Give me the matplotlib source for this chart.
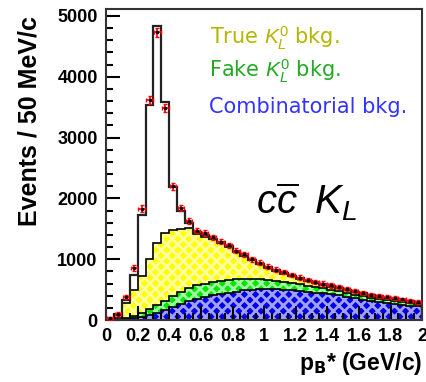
import numpy as np
import matplotlib.pyplot as plt

plt.rcParams['mathtext.fontset'] = 'custom'
plt.rcParams['mathtext.it'] = 'Liberation Sans:italic'
plt.rcParams['mathtext.rm'] = 'Liberation Sans'
plt.rcParams['hatch.linewidth'] = 2.0

# p_B* bins, 50 MeV/c wide from 0 to 2 GeV/c
edges = np.linspace(0, 2, 41)
centers = 0.5 * (edges[:-1] + edges[1:])

# stacked histogram tops
comb_top = [0, 5, 15, 30, 50, 80, 120, 170, 220, 270, 310, 350, 380, 410, 430, 450, 470, 490, 500, 510,
            515, 510, 500, 490, 475, 460, 450, 440, 430, 410, 385, 360, 335, 315, 295, 280, 265, 250, 240, 230]
fake_top = [0, 10, 30, 60, 110, 180, 250, 320, 400, 470, 520, 570, 600, 630, 650, 660, 670, 675, 675, 670,
            660, 650, 630, 610, 590, 560, 540, 520, 500, 475, 450, 420, 390, 370, 350, 330, 310, 290, 280, 270]
true_top = [0, 30, 280, 500, 720, 1000, 1260, 1430, 1480, 1490, 1510, 1420, 1370, 1330, 1270, 1200, 1120, 1050, 980, 920,
            860, 810, 760, 720, 680, 640, 610, 580, 550, 520, 490, 460, 430, 400, 380, 360, 340, 320, 300, 280]
total = [5, 80, 330, 740, 1720, 3530, 4840, 3580, 2180, 1800, 1600, 1450, 1400, 1340, 1280, 1210, 1130, 1060, 990, 930,
         870, 820, 770, 730, 690, 650, 620, 590, 560, 530, 500, 470, 440, 410, 390, 370, 350, 330, 310, 290]

# data points
data = [30, 100, 380, 850, 1830, 3620, 4730, 3490, 2200, 1840, 1630, 1470, 1430, 1360, 1290, 1230, 1140, 1080, 1000, 940,
        880, 830, 790, 740, 700, 660, 630, 600, 570, 540, 510, 480, 450, 420, 400, 380, 360, 340, 320, 300]
data_err = [25, 30, 40, 50, 55, 65, 70, 65, 55, 50, 45, 45, 45, 45, 45, 45, 40, 40, 40, 40,
            40, 40, 35, 35, 35, 35, 35, 35, 35, 35, 30, 30, 30, 30, 30, 30, 30, 30, 30, 30]

fig = plt.figure(figsize=(4.26, 3.82), dpi=100)
ax = fig.add_axes([0.249, 0.162, 0.742, 0.814])

ax.stairs(true_top, edges, baseline=fake_top, fill=True, facecolor='#ffff00', edgecolor='#ffffa0', hatch='xxx', linewidth=0)
ax.stairs(fake_top, edges, baseline=comb_top, fill=True, facecolor='#00e600', edgecolor='#a0ffa0', hatch='xxx', linewidth=0)
ax.stairs(comb_top, edges, baseline=0, fill=True, facecolor='#0000e6', edgecolor='#a0a0ff', hatch='xxx', linewidth=0)

for top in (comb_top, fake_top, true_top):
    ax.stairs(top, edges, color='black', linewidth=1.2)
ax.stairs(total, edges, color='#222222', linewidth=1.6)

ax.errorbar(centers, data, yerr=data_err, xerr=0.02, fmt='.', color='red', ms=3, mfc='black', mec='black',
            elinewidth=1.2, capsize=1.5, zorder=5)

ax.set_xlim(0, 2)
ax.set_ylim(0, 5110)
ax.set_xticks(np.arange(0, 2.01, 0.2))
ax.set_xticklabels(['0', '0.2', '0.4', '0.6', '0.8', '1', '1.2', '1.4', '1.6', '1.8', '2'])
ax.set_xticks(np.arange(0, 2.01, 0.05), minor=True)
ax.set_yticks([0, 1000, 2000, 3000, 4000, 5000])
ax.set_yticks(np.arange(0, 5100, 200), minor=True)
ax.tick_params(direction='in', which='major', length=10, width=1.5, labelsize=13, pad=6)
ax.tick_params(direction='in', which='minor', length=5, width=1.5)
ax.tick_params(axis='x', which='both', top=False)
ax.tick_params(axis='y', which='both', right=False)
for lab in ax.get_xticklabels() + ax.get_yticklabels():
    lab.set_fontweight('bold')
    lab.set_family('Liberation Sans')
for sp in ax.spines.values():
    sp.set_linewidth(1.5)
    sp.set_color('#333333')

ax.set_ylabel('Events / 50 MeV/c', fontsize=18, fontweight='bold', family='Liberation Sans')
ax.yaxis.set_label_coords(-0.205, 0.64)
ax.set_xlabel(r'p$_\mathbf{B}$* (GeV/c)', fontsize=16.5, fontweight='bold', family='Liberation Sans',
              loc='right', labelpad=3)

ax.text(0.33, 0.905, r'True $K_L^0$ bkg.', transform=ax.transAxes, fontsize=15, color='#b5b500', va='center')
ax.text(0.325, 0.80, r'Fake $K_L^0$ bkg.', transform=ax.transAxes, fontsize=15, color='#22aa22', va='center')
ax.text(0.325, 0.685, 'Combinatorial bkg.', transform=ax.transAxes, fontsize=15, color='#3333ff', va='center')
ax.text(0.475, 0.34, r'$c\overline{c}\;\;K_L$', transform=ax.transAxes, fontsize=29, color='black')

fig.savefig('out.png', dpi=100)
